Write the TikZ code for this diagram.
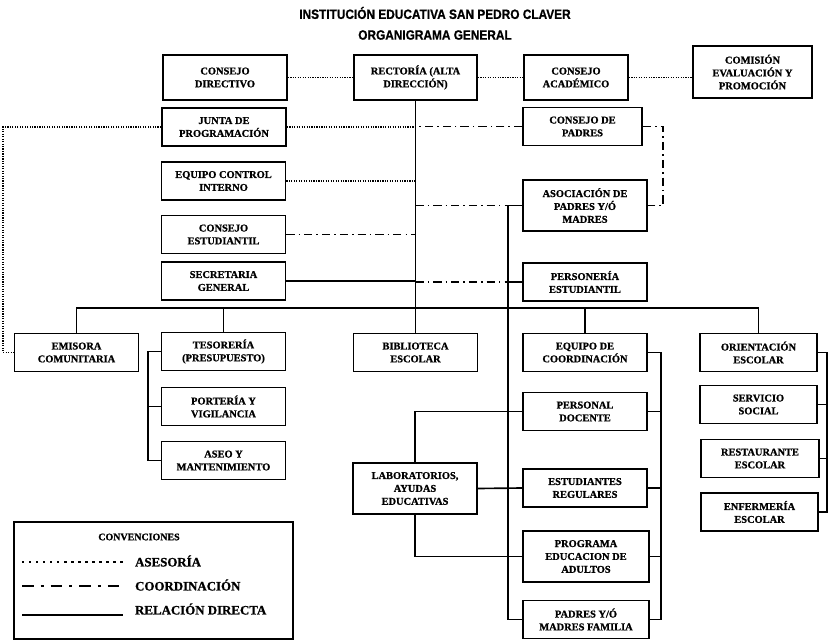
\documentclass[tikz,border=0pt]{standalone}
\usepackage{fontspec}
\setmainfont{Liberation Serif}[BoldFeatures={FakeBold=1}]
\newfontfamily\titlefont{Liberation Sans}[FakeStretch=0.88, BoldFeatures={FakeBold=0.8}]
\usetikzlibrary{positioning}

\begin{document}
\begin{tikzpicture}[
    x=0.03cm, y=-0.03cm,
    every node/.style={font=\bfseries\fontsize{8.9}{11}\selectfont},
    box/.style={rectangle, draw=black, line width=1.5pt, align=center,
        inner sep=1pt, minimum width=3.72cm, minimum height=1.14cm},
    tallbox/.style={box, minimum height=1.53cm},
    topbox/.style={box, minimum height=1.35cm},
    sidebox/.style={box, minimum width=3.5cm},
    ttl/.style={font=\titlefont\bfseries\fontsize{11.5}{13}\selectfont},
    legtxt/.style={anchor=west, font=\bfseries\fontsize{11}{13}\selectfont},
    rel/.style={draw=black, line width=1.4pt},
    ase/.style={draw=black, line width=1.2pt, dash pattern=on 1pt off 1.1pt},
    coordline/.style={draw=black, line width=1.3pt,
        dash pattern=on 7pt off 3.5pt on 1.2pt off 3.5pt},
]
\useasboundingbox (0,0) rectangle (830,641);

% ===== TITLE =====
\node[ttl] (title1) at (435,13) {INSTITUCIÓN EDUCATIVA SAN PEDRO CLAVER};
\node[ttl] (title2) at (435,35) {ORGANIGRAMA GENERAL};

% ===== TOP ROW =====
\node[topbox] (cdir)  at (225,77.5)   {CONSEJO\\DIRECTIVO};
\node[topbox, minimum width=3.69cm] (rect) at (415.5,77.5) {RECTORÍA (ALTA\\DIRECCIÓN)};
\node[topbox, minimum width=3.12cm] (cacad) at (576,77.5) {CONSEJO\\ACADÉMICO};
\node[box, minimum width=3.57cm, minimum height=1.56cm] (comis) at (752.5,72)
    {COMISIÓN\\EVALUACIÓN Y\\PROMOCIÓN};

% ===== STAFF BOXES =====
\node[box] (junta) at (224,127)   {JUNTA DE\\PROGRAMACIÓN};
\node[box] (eci)   at (223.5,181) {EQUIPO CONTROL\\INTERNO};
\node[box] (cest)  at (223.5,234.5) {CONSEJO\\ESTUDIANTIL};
\node[box] (secg)  at (223.5,281) {SECRETARIA\\GENERAL};

\node[box, minimum width=3.57cm] (cpad) at (582.5,126.5) {CONSEJO DE\\PADRES};
\node[tallbox] (asoc) at (585,205.5) {ASOCIACIÓN DE\\PADRES Y/Ó\\MADRES};
\node[box] (pers) at (585,282) {PERSONERÍA\\ESTUDIANTIL};

% ===== LOWER ROW =====
\node[box] (emis) at (76.5,352.5)  {EMISORA\\COMUNITARIA};
\node[box] (teso) at (223.5,351.5) {TESORERÍA\\(PRESUPUESTO)};
\node[box] (bibl) at (415.5,352.5) {BIBLIOTECA\\ESCOLAR};
\node[box] (eqco) at (585,352.5)   {EQUIPO DE\\COORDINACIÓN};
\node[sidebox] (orie) at (758.5,352.5) {ORIENTACIÓN\\ESCOLAR};

\node[box] (port) at (223.5,406.5) {PORTERÍA Y\\VIGILANCIA};
\node[box] (aseo) at (223.5,460.5) {ASEO Y\\MANTENIMIENTO};

\node[box]     (pdoc) at (585,411.5) {PERSONAL\\DOCENTE};
\node[tallbox] (lab)  at (415,488.5) {LABORATORIOS,\\AYUDAS\\EDUCATIVAS};
\node[box]     (estr) at (585,488)   {ESTUDIANTES\\REGULARES};
\node[tallbox, minimum width=3.78cm] (prog) at (586,556.5) {PROGRAMA\\EDUCACION DE\\ADULTOS};
\node[box, minimum width=3.78cm]     (pmf)  at (586,619.5) {PADRES Y/Ó\\MADRES FAMILIA};

\node[sidebox] (serv) at (758.5,404.5) {SERVICIO\\SOCIAL};
\node[sidebox, minimum width=3.54cm] (rest) at (760,458.5) {RESTAURANTE\\ESCOLAR};
\node[sidebox, minimum width=3.51cm] (enf)  at (759.5,512) {ENFERMERÍA\\ESCOLAR};

% rails and bus
\coordinate (bus)    at (0,308);
\coordinate (lrail)  at (3,0);
\coordinate (prail)  at (663,0);
\coordinate (lspine) at (508,0);
\coordinate (tspine) at (148,0);
\coordinate (cspine) at (661,0);
\coordinate (ospine) at (827,0);

% ===== ASESORIA (dotted) =====
\draw[ase] (cdir) -- (rect);
\draw[ase] (rect) -- (cacad);
\draw[ase] (cacad.east) -- (cacad.east -| comis.west);
\draw[ase] (junta.west) -| (lrail |- emis.west) -- (emis.west);

% ===== links into the central line =====
\foreach \n/\s in {junta/ase, eci/ase, cest/coordline, secg/rel}
    \draw[\s] (\n.east) -- (\n.east -| rect.south);

\draw[coordline] (cpad.west) -- (cpad.west -| rect.south);
\draw[coordline] (cpad.east) -| (prail |- asoc.east) -- (asoc.east);
\foreach \n in {asoc, pers}
    \draw[coordline] (\n.west -| rect.south) -- (\n.west -| lspine);

% ===== RELACION DIRECTA (solid) =====
\draw[rel] (rect.south) -- (bibl.north);
\draw[rel] (emis.north) -- (emis.north |- bus) -- (orie.north |- bus) -- (orie.north);
\foreach \n in {teso, eqco}
    \draw[rel] (\n.north) -- (\n.north |- bus);

\draw[rel] (asoc.west) -| (lspine |- pmf.west) -- (pmf.west);
\draw[rel] (pers.west) -- (pers.west -| lspine);

\draw[rel] (teso.west) -| (tspine |- aseo.west) -- (aseo.west);
\draw[rel] (port.west) -- (port.west -| tspine);

\draw[rel] (eqco.east) -| (cspine |- pmf.east) -- (pmf.east);
\foreach \n in {pdoc, estr, prog}
    \draw[rel] (\n.east) -- (\n.east -| cspine);

\draw[rel] (orie.east) -| (ospine |- enf.east) -- (enf.east);
\foreach \n in {serv, rest}
    \draw[rel] (\n.east) -- (\n.east -| ospine);

\draw[rel] (lab.north) |- (pdoc.west);
\draw[rel] (lab.east) -- (estr.west);
\draw[rel] (lab.south) |- (prog.west);

% ===== CONVENCIONES =====
\node[draw=black, line width=2pt, minimum width=8.37cm, minimum height=3.51cm,
    inner sep=0pt] (conv) at (153.5,580.5) {};
\node[font=\bfseries\fontsize{8.5}{10}\selectfont] (convt) at (139,537) {CONVENCIONES};

\coordinate (la1) at (22,562); \coordinate (lb1) at (123,562);
\coordinate (la2) at (22,586); \coordinate (lb2) at (123,586);
\coordinate (la3) at (22,615); \coordinate (lb3) at (123,615);
\draw[line width=2pt, dash pattern=on 2pt off 4pt] (la1) -- (lb1);
\draw[line width=2.4pt, dash pattern=on 10pt off 6pt on 2.4pt off 6pt] (la2) -- (lb2);
\draw[line width=2pt] (la3) -- (lb3);

\node[legtxt] (tase) at (131,561) {ASESORÍA};
\node[legtxt] (tcoo) at (131,585) {COORDINACIÓN};
\node[legtxt] (trel) at (131,609) {RELACIÓN DIRECTA};

\end{tikzpicture}
\end{document}
